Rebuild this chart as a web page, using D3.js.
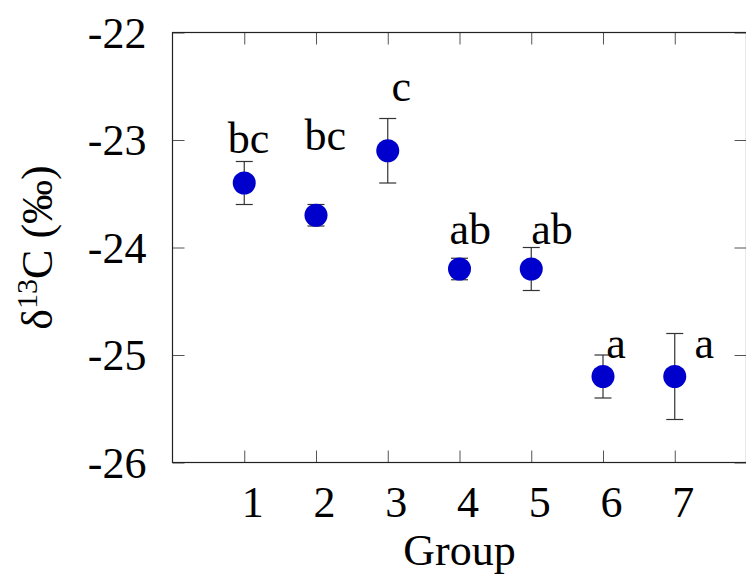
<!DOCTYPE html>
<html><head><meta charset="utf-8">
<script src="https://cdn.jsdelivr.net/npm/d3@7"></script>
<style>
html,body{margin:0;padding:0;background:#fff;}
svg{display:block;font-family:"Liberation Serif","Times New Roman",serif;}
</style></head>
<body><div id="chart"></div>
<script>
const groups = [1, 2, 3, 4, 5, 6, 7];
const means = [-23.4, -23.7, -23.1, -24.2, -24.2, -25.2, -25.2];
const errors = [0.2, 0.1, 0.3, 0.1, 0.2, 0.2, 0.4];
const letters = ["bc", "bc", "c", "ab", "ab", "a", "a"];
const letterX = [1.06, 2.13, 3.19, 4.15, 5.29, 6.18, 7.41];
const letterY = [-23.12, -23.09, -22.64, -23.97, -23.97, -25.03, -25.03];
const yTicks = [-22, -23, -24, -25, -26];
const xTicks = [1, 2, 3, 4, 5, 6, 7];

(function () {
const W = 746, H = 576;
const m = {left: 172.5, top: 32.5};
const pw = 574, ph = 430;

const svg = d3.select("#chart").append("svg").attr("width", W).attr("height", H);
const g = svg.append("g").attr("transform", `translate(${m.left},${m.top})`);

const x = d3.scaleLinear().domain([0, 8]).range([0, pw]);
const y = d3.scaleLinear().domain([-26, -22]).range([ph, 0]);

const FS = 44;
const fmt = d => String(d);

const axLeft = g.append("g").call(d3.axisLeft(y).tickValues(yTicks).tickSize(-12).tickPadding(26).tickFormat(fmt));
const axRight = g.append("g").attr("transform", `translate(${pw},0)`).call(d3.axisRight(y).tickValues(yTicks).tickSize(-12).tickFormat(""));
const axBottom = g.append("g").attr("transform", `translate(0,${ph})`).call(d3.axisBottom(x).tickValues(xTicks).tickSize(-12).tickPadding(23).tickFormat(fmt));
const axTop = g.append("g").call(d3.axisTop(x).tickValues(xTicks).tickSize(-12).tickFormat(""));

[axLeft, axRight, axBottom, axTop].forEach(a => {
  a.select(".domain").remove();
  a.selectAll(".tick line").attr("stroke", "#555").attr("stroke-width", 1);
  a.selectAll("text").attr("font-family", "Liberation Serif").attr("font-size", FS).attr("fill", "#000");
});
axLeft.selectAll("text").attr("dy", "0.33em");
axBottom.selectAll("text").attr("dx", 8).attr("dy", "0.71em");

g.append("rect").attr("x", 0).attr("y", 0).attr("width", pw).attr("height", ph)
  .attr("fill", "none").attr("stroke", "#222").attr("stroke-width", 1.2);

const data = groups.map((gr, i) => ({g: gr, m: means[i], e: errors[i], l: letters[i], lx: letterX[i], ly: letterY[i]}));
const eb = g.append("g").attr("stroke", "#333").attr("stroke-width", 1.2);
eb.selectAll("line.v").data(data).join("line").attr("class", "v")
  .attr("x1", d => x(d.g)).attr("x2", d => x(d.g))
  .attr("y1", d => y(d.m + d.e)).attr("y2", d => y(d.m - d.e));
eb.selectAll("line.t").data(data).join("line").attr("class", "t")
  .attr("x1", d => x(d.g) - 8.5).attr("x2", d => x(d.g) + 8.5)
  .attr("y1", d => y(d.m + d.e)).attr("y2", d => y(d.m + d.e));
eb.selectAll("line.b").data(data).join("line").attr("class", "b")
  .attr("x1", d => x(d.g) - 8.5).attr("x2", d => x(d.g) + 8.5)
  .attr("y1", d => y(d.m - d.e)).attr("y2", d => y(d.m - d.e));

g.append("g").selectAll("circle").data(data).join("circle")
  .attr("cx", d => x(d.g)).attr("cy", d => y(d.m)).attr("r", 11.5).attr("fill", "#0000cc");

g.append("g").selectAll("text").data(data).join("text")
  .attr("x", d => x(d.lx)).attr("y", d => y(d.ly)).attr("text-anchor", "middle")
  .attr("font-size", FS).text(d => d.l);

svg.append("text").attr("x", m.left + x(4)).attr("y", 565).attr("text-anchor", "middle")
  .attr("font-size", FS).text("Group");
const yl = svg.append("text").attr("transform", `translate(52,${m.top + ph / 2}) rotate(-90)`)
  .attr("text-anchor", "middle").attr("font-size", FS);
yl.append("tspan").text("δ");
yl.append("tspan").attr("font-size", 30).attr("dy", -15).text("13");
yl.append("tspan").attr("dy", 15).text("C (‰)");
})();
</script></body></html>
